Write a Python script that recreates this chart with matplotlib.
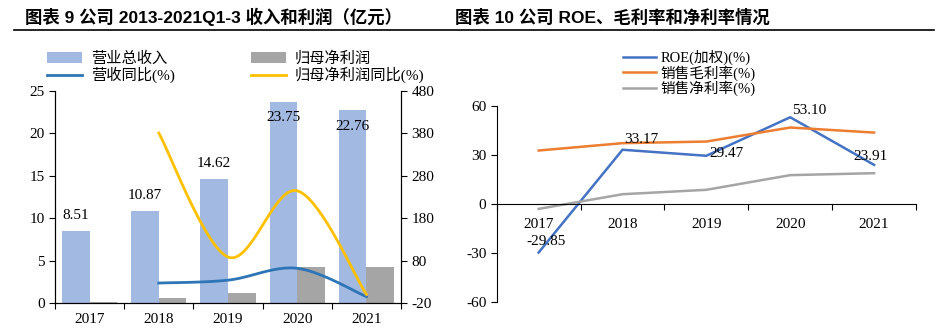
import numpy as np
import matplotlib.pyplot as plt
from matplotlib.lines import Line2D

plt.rcParams['font.family'] = ['Liberation Serif', 'Noto Sans CJK SC']
plt.rcParams['axes.unicode_minus'] = False

years = ['2017', '2018', '2019', '2020', '2021']

# 收入和利润（亿元）
revenue = [8.51, 10.87, 14.62, 23.75, 22.76]
net_profit = [0.13, 0.65, 1.23, 4.25, 4.29]
revenue_yoy = [27.7, 34.5, 62.4, -4.2]        # 2018-2021
profit_yoy = [381, 89, 245, 1]                # 2018-2021

# ROE、毛利率、净利率（%）
roe = [-29.85, 33.17, 29.47, 53.10, 23.91]
gross_margin = [32.7, 37.2, 38.2, 46.8, 43.7]
net_margin = [-3.1, 5.9, 8.6, 17.6, 18.8]


def smooth(xs, ys, n=40):
    # bezier smoothing between the points, like office charts do
    pts = np.column_stack([xs, ys]).astype(float)
    out = []
    for i in range(len(pts) - 1):
        p0 = pts[max(i - 1, 0)]
        p1 = pts[i]
        p2 = pts[i + 1]
        p3 = pts[min(i + 2, len(pts) - 1)]
        c1 = p1 + (p2 - p0) / 6
        c2 = p2 - (p3 - p1) / 6
        t = np.linspace(0, 1, n)[:, None]
        seg = (1 - t)**3 * p1 + 3 * (1 - t)**2 * t * c1 + 3 * (1 - t) * t**2 * c2 + t**3 * p2
        out.append(seg if i == 0 else seg[1:])
    s = np.vstack(out)
    return s[:, 0], s[:, 1]


fig = plt.figure(figsize=(9.42, 3.30), dpi=100)

# titles and the rule under them
title_font = ['Liberation Sans', 'Noto Sans CJK SC']
fig.text(0.0265, 0.948, '图表 9 公司 2013-2021Q1-3 收入和利润（亿元）', fontsize=12.5,
         fontweight='bold', family=title_font, va='center')
fig.text(0.483, 0.948, '图表 10 公司 ROE、毛利率和净利率情况', fontsize=12.5,
         fontweight='bold', family=title_font, va='center')
fig.add_artist(Line2D([14 / 942, 934 / 942], [0.9076, 0.9076], color='black', lw=1.2))

# ---- left chart ----
ax1 = fig.add_axes([0.0584, 0.0809, 0.3673, 0.6433])
x = np.arange(len(years))
b1 = ax1.bar(x - 0.2, revenue, width=0.4, color='#A2B9E1', label='营业总收入')
b2 = ax1.bar(x + 0.2, net_profit, width=0.4, color='#A5A5A5', label='归母净利润')
for xi, v in zip(x, revenue):
    if v > 20:
        ax1.text(xi - 0.2, v - 1.9, f'{v:.2f}', ha='center', va='center', fontsize=11)
    else:
        ax1.text(xi - 0.2, v + 1.8, f'{v:.2f}', ha='center', va='center', fontsize=11)
ax1.set_xlim(-0.5, 4.5)
ax1.set_ylim(0, 25)
ax1.set_yticks([0, 5, 10, 15, 20, 25])
ax1.set_xticks(np.arange(-0.5, 5, 1))
ax1.set_xticklabels([])
ax1.set_xticks(x, minor=True)
ax1.set_xticklabels(years, minor=True)
ax1.tick_params(axis='x', which='major', direction='out', length=4, width=0.8)
ax1.tick_params(axis='x', which='minor', length=0, pad=7, labelsize=11)
ax1.tick_params(axis='y', direction='out', length=4, width=0.8, labelsize=11)
ax1.spines['top'].set_visible(False)

ax2 = ax1.twinx()
sx, sy = smooth(x[1:], revenue_yoy)
l1, = ax2.plot(sx, sy, color='#2E75B6', lw=2.0, label='营收同比(%)')
sx, sy = smooth(x[1:], profit_yoy)
l2, = ax2.plot(sx, sy, color='#FFC000', lw=2.0, label='归母净利润同比(%)')
ax2.set_ylim(-20, 480)
ax2.set_yticks([-20, 80, 180, 280, 380, 480])
ax2.tick_params(axis='y', direction='out', length=4, width=0.8, labelsize=11)
ax2.spines['top'].set_visible(False)
for a in (ax1, ax2):
    for s in a.spines.values():
        s.set_linewidth(0.8)

fig.legend(handles=[b1, l1, b2, l2], ncol=2, loc='upper left',
           bbox_to_anchor=(0.0499, 0.844), frameon=False, fontsize=11,
           handlelength=2.3, handletextpad=0.55, columnspacing=5.0,
           labelspacing=0.05, borderpad=0, borderaxespad=0)

# ---- right chart ----
ax3 = fig.add_axes([0.5273, 0.0858, 0.4451, 0.593])
ax3.plot(x, roe, color='#4472C4', lw=1.8, label='ROE(加权)(%)')
ax3.plot(x, gross_margin, color='#ED7D31', lw=1.8, label='销售毛利率(%)')
ax3.plot(x, net_margin, color='#A5A5A5', lw=1.8, label='销售净利率(%)')
roe_offsets = [(-9, 3), (1.5, 3), (2, -3), (1, 0), (-15, 1.5)]
for xi, v, off in zip(x, roe, roe_offsets):
    ax3.annotate(f'{v:.2f}', (xi, v), xytext=off, textcoords='offset points',
                 ha='left', va='bottom', fontsize=11)
ax3.set_xlim(-0.5, 4.5)
ax3.set_ylim(-60, 60)
ax3.set_yticks([-60, -30, 0, 30, 60])
ax3.spines['bottom'].set_position(('data', 0))
ax3.spines['top'].set_visible(False)
ax3.spines['right'].set_visible(False)
for s in ax3.spines.values():
    s.set_linewidth(0.8)
ax3.set_xticks(np.arange(-0.5, 5, 1))
ax3.set_xticklabels([])
ax3.set_xticks(x, minor=True)
ax3.set_xticklabels(years, minor=True)
ax3.tick_params(axis='x', which='major', direction='out', length=4, width=0.8)
ax3.tick_params(axis='x', which='minor', length=0, pad=10, labelsize=11)
ax3.tick_params(axis='y', direction='out', length=4, width=0.8, labelsize=11)

fig.legend(handles=ax3.get_lines(), loc='upper left', bbox_to_anchor=(0.661, 0.848),
           frameon=False, fontsize=10.5, handlelength=2.3, handletextpad=0.3,
           labelspacing=-0.02, borderpad=0, borderaxespad=0)

fig.savefig('out.png', dpi=100)
